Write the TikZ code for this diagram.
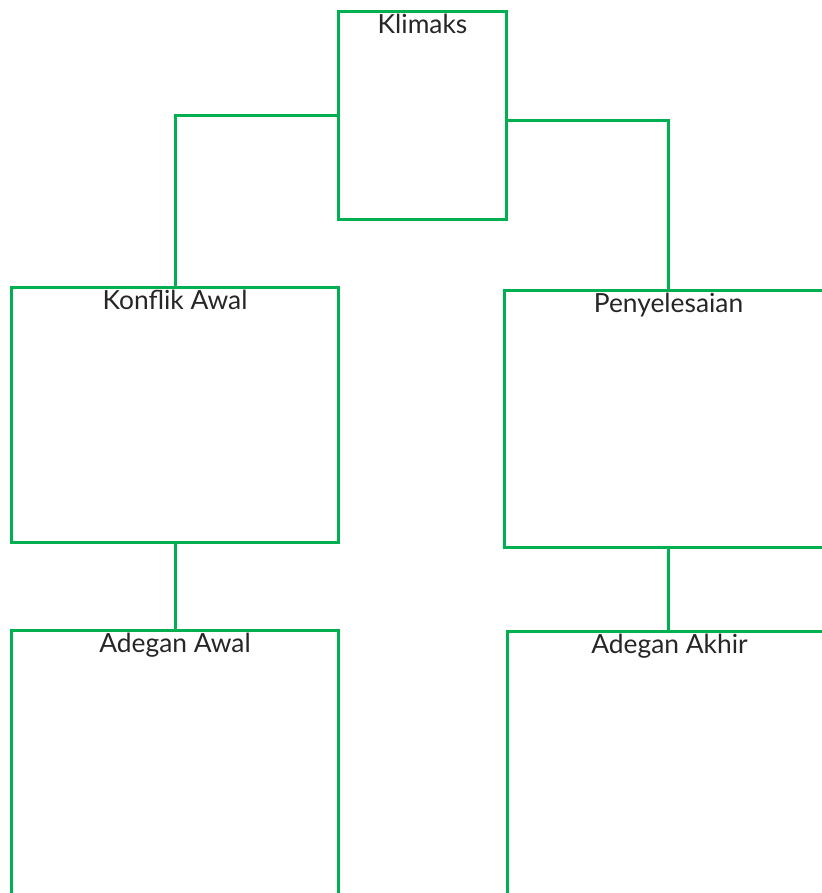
\documentclass[tikz,border=0pt]{standalone}
\usepackage{fontspec}
\setmainfont{Lato}
\usetikzlibrary{positioning}
\definecolor{boxgreen}{RGB}{0,176,80}

\begin{document}
\begin{tikzpicture}[
  x=0.03cm, y=-0.03cm,
  font=\fontsize{22.5}{27}\selectfont,
  stagebox/.style={rectangle, draw=boxgreen, line width=2.6pt, anchor=north west,
                   inner sep=0pt},
  caption/.style={anchor=north, inner sep=0pt, yshift=-3pt, text=black!85},
  link/.style={draw=boxgreen, line width=2.6pt}
]

% Page frame
\clip (0,0) rectangle (822,893);

% Boxes
\node[stagebox, minimum width=168*0.03cm, minimum height=208*0.03cm,
      label={[caption]north:Klimaks}] (klimaks) at (337,10) {};
\node[stagebox, minimum width=327*0.03cm, minimum height=255*0.03cm,
      label={[caption]north:Konflik Awal}] (konflik) at (10,286) {};
\node[stagebox, minimum width=328*0.03cm, minimum height=257*0.03cm,
      label={[caption]north:Penyelesaian}] (selesai) at (503,289) {};
\node[stagebox, minimum width=327*0.03cm, minimum height=300*0.03cm,
      label={[caption]north:Adegan Awal}] (awal) at (10,629) {};
\node[stagebox, minimum width=324*0.03cm, minimum height=300*0.03cm,
      label={[caption]north:Adegan Akhir}] (akhir) at (506,630) {};

% Connectors
\coordinate (kright) at ([yshift=-5*0.03cm]klimaks.east);
\draw[link] (klimaks.west) -| (konflik.north);
\draw[link] (kright) -| (selesai.north);
\draw[link] (konflik.south) -- (awal.north);
\draw[link] (selesai.south) -- (selesai.south |- akhir.north);

\end{tikzpicture}
\end{document}
